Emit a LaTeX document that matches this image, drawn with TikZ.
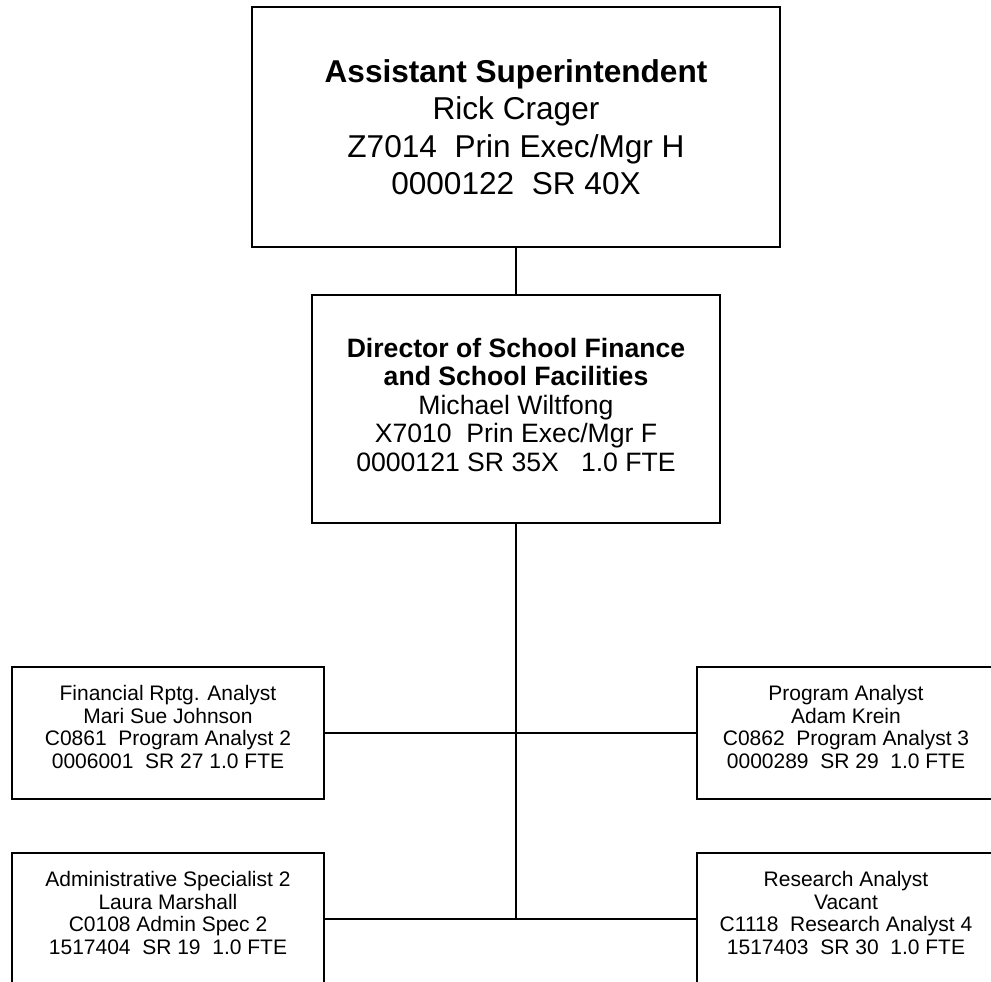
\documentclass[tikz,border=0pt]{standalone}
\usepackage{fontspec}
\setmainfont{Liberation Sans}
\begin{document}
\begin{tikzpicture}[x=1pt,y=-1pt,
 box/.style={draw,line width=1.7pt,inner sep=0pt,align=center,text=black},
 big/.style={box,font=\fontsize{31.6}{37.5}\selectfont},
 mid/.style={box,font=\fontsize{26.6}{28.5}\selectfont},
 small/.style={box,font=\fontsize{21}{22.5}\selectfont},
 conn/.style={line width=1.5pt}]
\useasboundingbox (0,0) rectangle (991,982);
\clip (0,0) rectangle (991,982);
\node[big,minimum width=528pt,minimum height=240pt] (top) at (516,127)
 {\textbf{Assistant Superintendent}\\Rick Crager\\Z7014\ \ Prin Exec/Mgr H\\0000122\ \ SR 40X};
\node[mid,minimum width=408pt,minimum height=228pt] (dir) at (516,409)
 {\mbox{}\\[-18pt]\textbf{Director of School Finance}\\\textbf{and School Facilities}\\Michael Wiltfong\\X7010\ \ Prin Exec/Mgr F\\0000121 SR 35X\ \ \ 1.0 FTE};
\node[small,minimum width=312pt,minimum height=132pt] (fin) at (168,733)
 {Financial Rptg. Analyst\\Mari Sue Johnson\\C0861\ \ Program Analyst 2\\0006001\ \ SR 27 1.0 FTE\\[-10.5pt]};
\node[small,minimum width=298pt,minimum height=132pt] (prog) at (846,733)
 {Program Analyst\\Adam Krein\\C0862\ \ Program Analyst 3\\0000289\ \ SR 29\ \ 1.0 FTE\\[-10.5pt]};
\node[small,minimum width=312pt,minimum height=132pt] (adm) at (168,919)
 {Administrative Specialist 2\\Laura Marshall\\C0108 Admin Spec 2\\1517404\ \ SR 19\ \ 1.0 FTE\\[-10.5pt]};
\node[small,minimum width=298pt,minimum height=132pt] (res) at (846,919)
 {Research Analyst\\Vacant\\C1118\ \ Research Analyst 4\\1517403\ \ SR 30\ \ 1.0 FTE\\[-10.5pt]};
\coordinate (jn) at (516,919);
\draw[conn] (top.south) -- (dir.north);
\draw[conn] (dir.south) -- (jn);
\draw[conn] (fin.east) -- (prog.west);
\draw[conn] (adm.east) -- (res.west);
\end{tikzpicture}
\end{document}
